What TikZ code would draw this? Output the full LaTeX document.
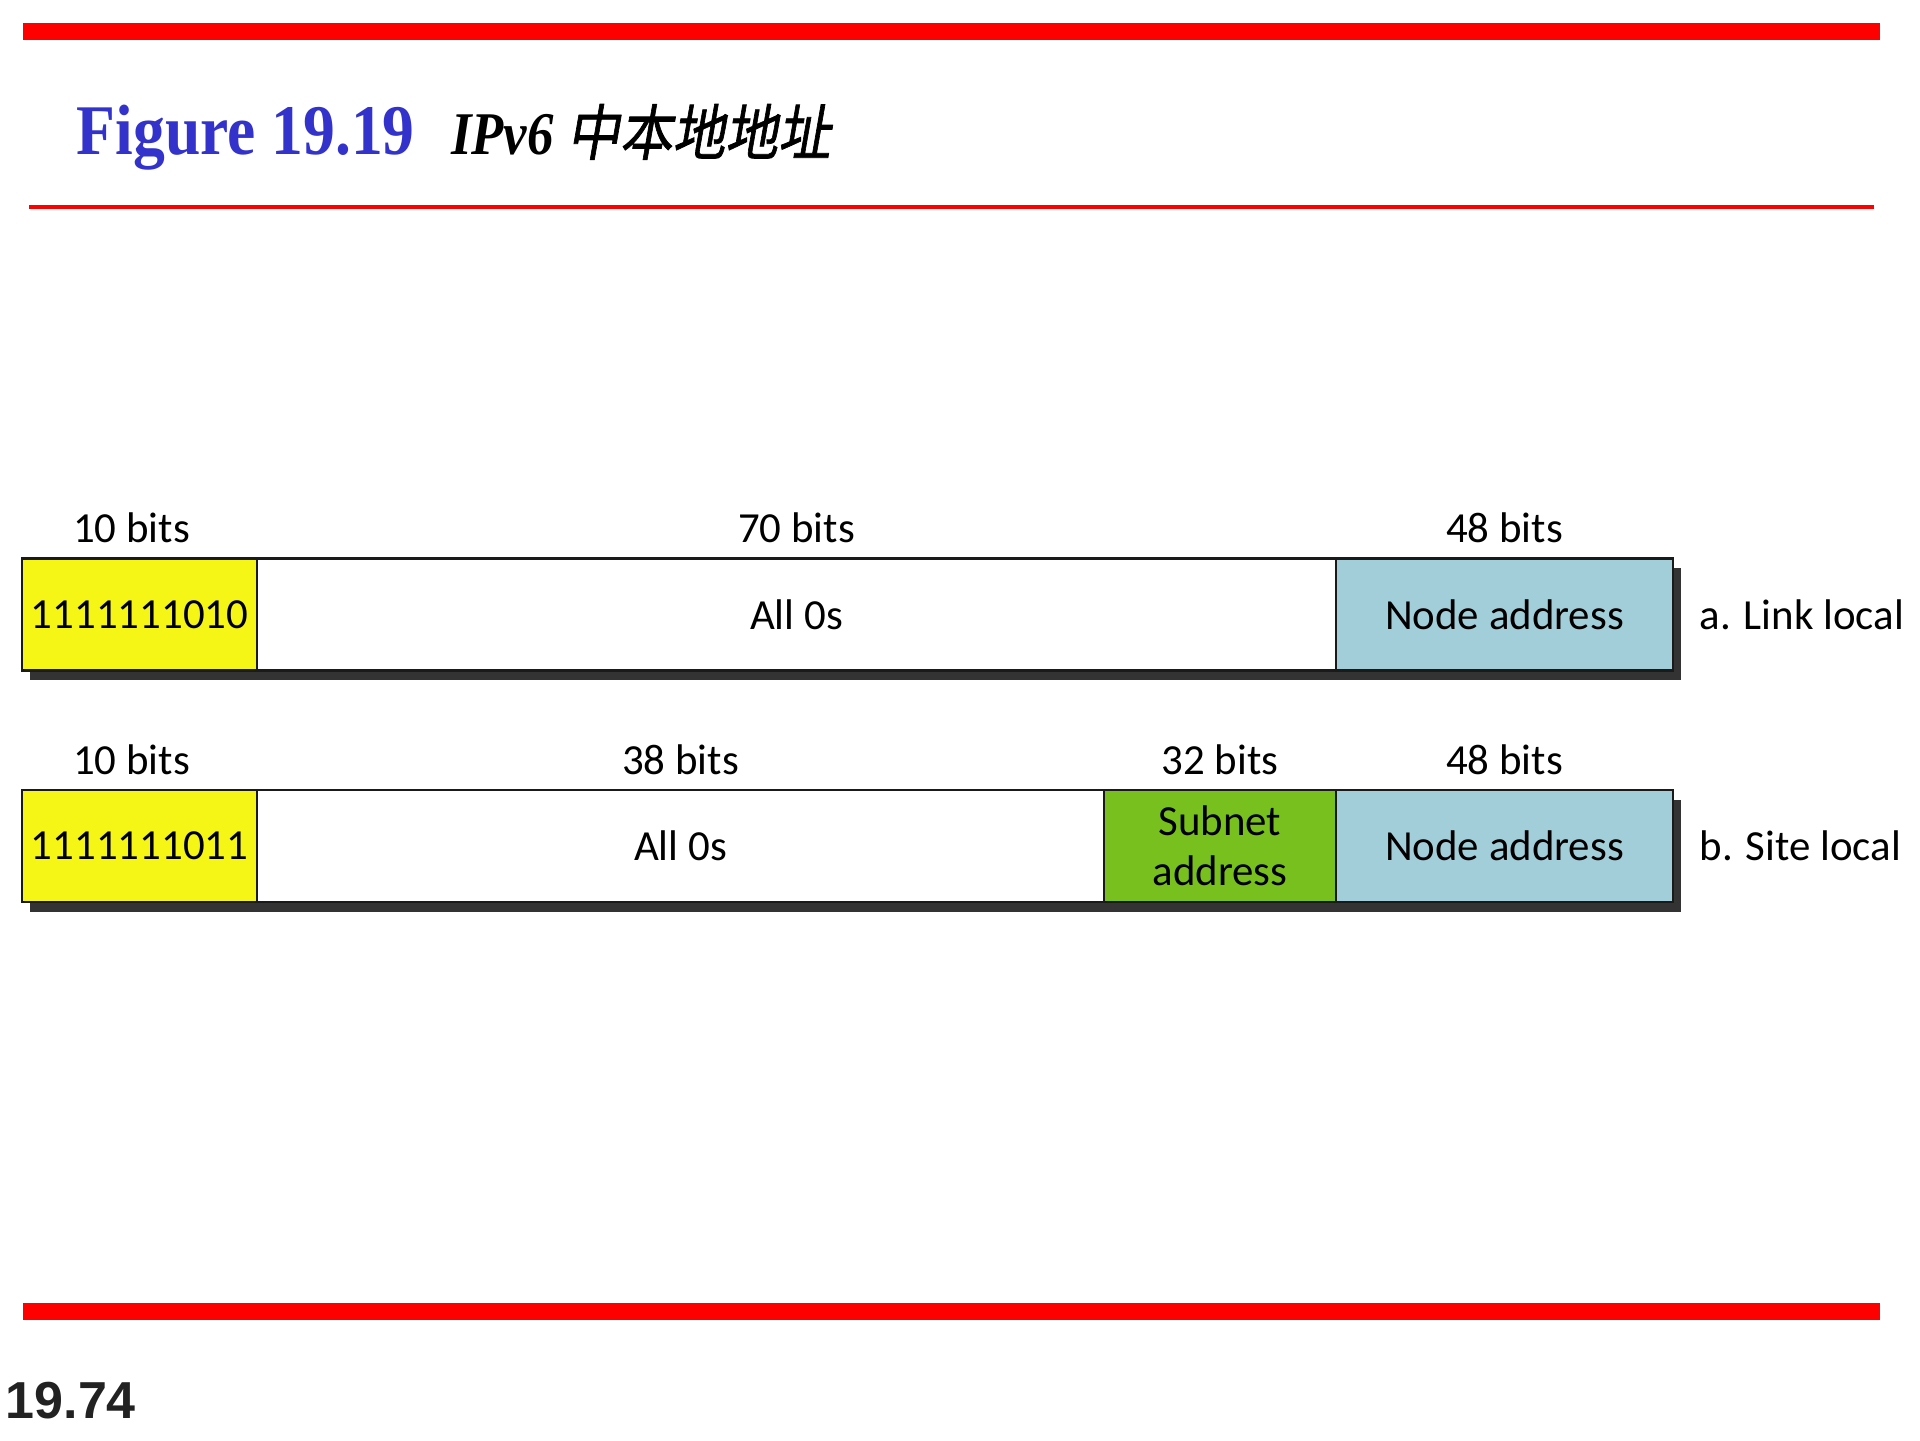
\documentclass[tikz,border=0pt]{standalone}
\usepackage{fontspec}
\usepackage{graphicx}
\setmainfont{Carlito}
\newfontfamily\titlefont{Liberation Serif}
\newfontfamily\pagefont{Liberation Sans}
\newfontfamily\cjkfont[FakeSlant=0.2,FakeBold=1.2]{Noto Sans CJK SC}
\usetikzlibrary{
    shadows,
    positioning,
}
\definecolor{barred}{RGB}{255,0,0}
\definecolor{titleblue}{RGB}{51,51,204}
\definecolor{prefixyellow}{RGB}{245,245,22}
\definecolor{nodeblue}{RGB}{162,206,218}
\definecolor{subnetgreen}{RGB}{120,192,30}
\definecolor{shadowgray}{RGB}{51,51,51}
\definecolor{edgegray}{RGB}{26,26,26}
\definecolor{pagegray}{RGB}{34,34,34}
\tikzset{
    field/.style = {
        rectangle,
        minimum height=1.12cm,
        inner sep=0pt,
        outer sep=0pt,
        align=center,
        font=\fontsize{12.2}{14.2}\selectfont,
        line width=0.8pt,
        draw=edgegray,
        fill=white,
        drop shadow={shadow xshift=0.08cm, shadow yshift=-0.1cm,
            fill=shadowgray, opacity=1},
    },
    bitlabel/.style = {
        inner sep=0pt,
        font=\fontsize{12.2}{14.2}\selectfont,
    },
    rowlabel/.style = {
        inner sep=0pt,
        font=\fontsize{12.2}{14.2}\selectfont,
    },
    redbar/.style = {
        draw=barred,
        line width=0.17cm,
    },
}

\begin{document}
\begin{tikzpicture}
        \useasboundingbox (0,0) rectangle (19.2,14.4);

        \draw [redbar] (0.23,14.085) -- (18.80,14.085);
        \draw [redbar, line width=0.045cm] (0.29,12.33) -- (18.74,12.33);
        \draw [redbar] (0.23,1.285) -- (18.80,1.285);

        \node [anchor=base west, inner sep=0pt, text=titleblue,
            font=\titlefont\bfseries\fontsize{18.1}{20}\selectfont] (fig)
            at (0.76,12.85) {\scalebox{1}[1.12]{Figure 19.19}};

        \node [base right=0.35cm of fig, inner sep=0pt,
            font=\titlefont\bfseries\itshape\fontsize{15}{18}\selectfont] (caption)
            {\scalebox{1}[1.15]{IPv6 {\cjkfont\mdseries\upshape 中本地地址}}};

        % a. link local
        \node [field, fill=prefixyellow, minimum width=2.35cm, anchor=west] (pa)
            at (0.22,8.255) {1111111010};
        \node [field, minimum width=10.79cm, right=0pt of pa] (za)
            {All 0s};
        \node [field, fill=nodeblue, minimum width=3.37cm, right=0pt of za] (na)
            {Node address};
        \node [rowlabel, right=0.26cm of na] (linklocal)
            {a. Link local};

        \node [bitlabel, above=0.155cm of pa, anchor=base, xshift=-0.08cm] (pal) {10 bits};
        \node [bitlabel, above=0.155cm of za, anchor=base] (zal) {70 bits};
        \node [bitlabel, above=0.155cm of na, anchor=base] (nal) {48 bits};

        % b. site local
        \node [field, fill=prefixyellow, minimum width=2.35cm, anchor=west] (pb)
            at (0.22,5.94) {1111111011};
        \node [field, minimum width=8.47cm, right=0pt of pb] (zb)
            {All 0s};
        \node [field, fill=subnetgreen, minimum width=2.32cm, right=0pt of zb] (sb)
            {Subnet\\address};
        \node [field, fill=nodeblue, minimum width=3.37cm, right=0pt of sb] (nb)
            {Node address};
        \node [rowlabel, right=0.26cm of nb] (sitelocal)
            {b. Site local};

        \node [bitlabel, above=0.155cm of pb, anchor=base, xshift=-0.08cm] (pbl) {10 bits};
        \node [bitlabel, above=0.155cm of zb, anchor=base] (zbl) {38 bits};
        \node [bitlabel, above=0.155cm of sb, anchor=base] (sbl) {32 bits};
        \node [bitlabel, above=0.155cm of nb, anchor=base] (nbl) {48 bits};

        \node [anchor=base west, inner sep=0pt, text=pagegray,
            font=\pagefont\bfseries\fontsize{14.8}{16}\selectfont] (pagenum)
            at (0.05,0.22) {19.74};

    \end{tikzpicture}
\end{document}
